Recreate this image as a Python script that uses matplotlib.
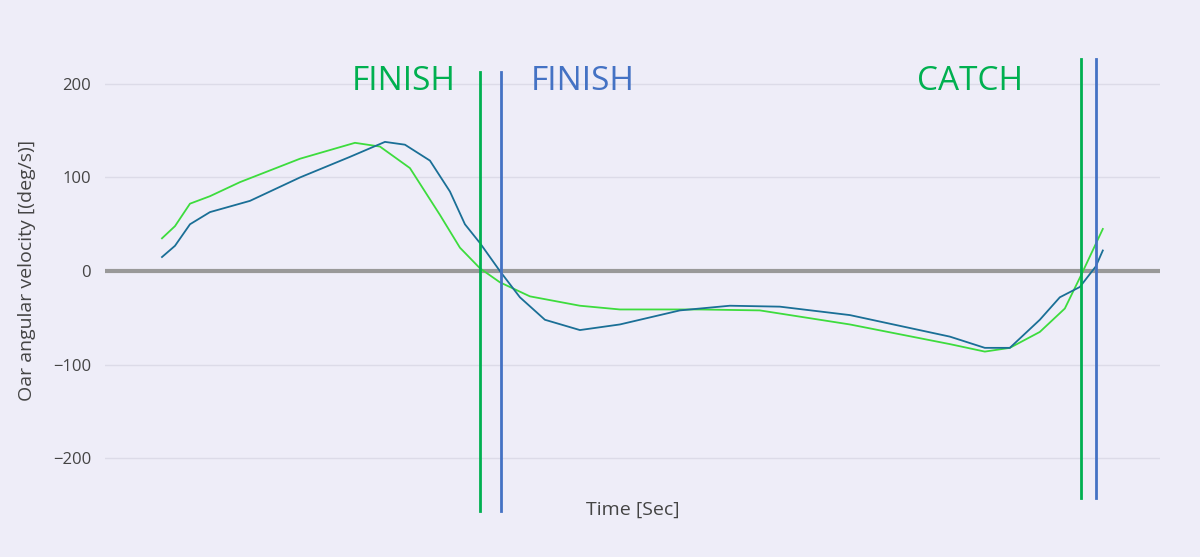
import numpy as np
import matplotlib.pyplot as plt

plt.rcParams['font.family'] = ['Open Sans', 'DejaVu Sans']

# time [s] and oar angular velocity [deg/s]
t_green = [0.114, 0.14, 0.17, 0.21, 0.27, 0.39, 0.50, 0.55, 0.61, 0.67, 0.71, 0.75, 0.79,
           0.85, 0.95, 1.03, 1.19, 1.31, 1.49, 1.69, 1.76, 1.81, 1.87, 1.92, 1.952, 1.996]
v_green = [35, 48, 72, 80, 95, 120, 137, 133, 110, 60, 25, 3, -12,
           -27, -37, -41, -41, -42, -57, -78, -86, -82, -65, -40, -5, 45]
t_blue = [0.114, 0.14, 0.17, 0.21, 0.29, 0.39, 0.49, 0.56, 0.60, 0.65, 0.69, 0.72, 0.75, 0.79,
          0.83, 0.88, 0.95, 1.03, 1.15, 1.25, 1.35, 1.49, 1.69, 1.76, 1.81, 1.87, 1.91, 1.95,
          1.982, 1.996]
v_blue = [15, 27, 50, 63, 75, 100, 122, 138, 135, 118, 85, 50, 30, 0,
          -28, -52, -63, -57, -42, -37, -38, -47, -70, -82, -82, -52, -28, -17, 5, 22]

# event markers: (time, colour, label)
events_a = [(0.75, '#00b050'), (0.792, '#4472c4')]
events_b = [(1.952, '#00b050'), (1.982, '#4472c4')]
labels = [(0.598, 'FINISH', '#00b050'), (0.956, 'FINISH', '#4472c4'), (1.73, 'CATCH', '#00b050')]

bg = '#eeedf8'
fig = plt.figure(figsize=(12, 5.57), dpi=100, facecolor=bg)
ax = fig.add_axes([0.0875, 0.12, 0.879, 0.79], facecolor=bg)

ax.set_xlim(0, 2.11)
ax.set_ylim(-234, 236)
ax.set_yticks([-200, -100, 0, 100, 200])
ax.set_yticklabels(['\u2212200', '\u2212100', '0', '100', '200'])
ax.set_xticks([])
ax.grid(axis='y', color='#dcdbe8', lw=1)
ax.set_axisbelow(True)
for s in ax.spines.values():
    s.set_visible(False)
ax.tick_params(axis='y', length=0, labelsize=12, labelcolor='#444444', pad=10)

ax.axhline(0, color='#999999', lw=3, zorder=2)
ax.plot(t_green, v_green, color='#3ddc3d', lw=1.3, zorder=3)
ax.plot(t_blue, v_blue, color='#1a6f96', lw=1.3, zorder=3)

for x, c in events_a:
    ax.plot([x, x], [213, -256], color=c, lw=2, clip_on=False, zorder=4)
for x, c in events_b:
    ax.plot([x, x], [226, -242], color=c, lw=2, clip_on=False, zorder=4)
for x, txt, c in labels:
    ax.text(x, 203, txt, color=c, fontsize=24, ha='center', va='center')

ax.set_ylabel('Oar angular velocity [(deg/s)]', fontsize=14, color='#444444', labelpad=12)
ax.set_xlabel('Time [Sec]', fontsize=14, color='#444444', labelpad=8)

fig.savefig('out.png', dpi=100, facecolor=bg)
